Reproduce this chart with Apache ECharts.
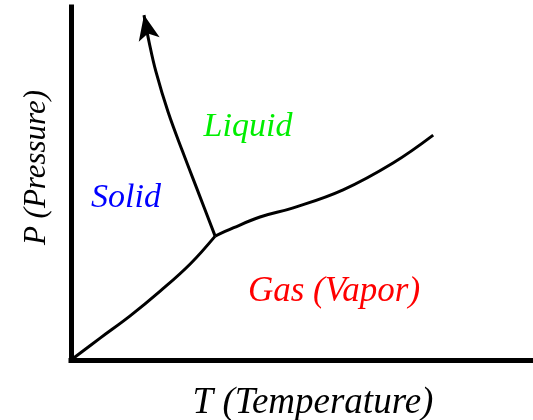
<!DOCTYPE html>
<html>
<head>
<meta charset="utf-8">
<script src="https://cdn.jsdelivr.net/npm/echarts@6/dist/echarts.min.js"></script>
<style>
  html,body{margin:0;padding:0;background:#fff}
  #chart{width:533px;height:420px}
</style>
</head>
<body>
<div id="chart"></div>
<script>
// phase boundaries, T and P in arbitrary units (0..100)
var subT = [0, 6.3, 12.8, 19.3, 25.8, 31.2]
var subP = [0, 6.2, 12.5, 19.5, 27.2, 35.1]
var fusT = [31.2, 27.7, 24.2, 21.0, 18.4, 16.9, 15.8]
var fusP = [35.1, 47.0, 58.9, 70.3, 81.6, 90.1, 97.7]
var vapT = [31.2, 35.1, 40.9, 48.1, 58.9, 69.7, 78.4]
var vapP = [35.1, 37.4, 40.5, 43.1, 48.2, 55.8, 63.7]

var phaseNames = ['Solid', 'Liquid', 'Gas (Vapor)']
var phaseColors = ['#0000ff', '#00ee00', '#ff0000']

function pairs(xs, ys){
    var out = []
    for (var i = 0; i < xs.length; i++) out.push([xs[i], ys[i]])
    return out
}

var serif = '"Liberation Serif", "DejaVu Serif", serif'

var myChart = echarts.init(document.getElementById('chart'))
var lineBase = {
    type: 'line',
    smooth: 0.4,
    symbol: 'none',
    lineStyle: {color: '#000', width: 3},
    silent: true
}
var option = {
    animation: false,
    grid: {left: 71, right: 0, top: 7, bottom: 60, outerBoundsMode: 'none', containLabel: false},
    xAxis: {
        type: 'value', min: 0, max: 100,
        name: 'T (Temperature)', nameLocation: 'middle', nameGap: 25,
        nameTextStyle: {fontFamily: serif, fontStyle: 'italic', fontSize: 37, color: '#000', padding: [0, 0, 0, 22]},
        axisLine: {lineStyle: {color: '#000', width: 5, cap: 'square'}},
        axisTick: {show: false}, axisLabel: {show: false}, splitLine: {show: false}
    },
    yAxis: {
        type: 'value', min: 0, max: 100,
        name: 'P (Pressure)', nameLocation: 'middle', nameGap: 19,
        nameTextStyle: {fontFamily: serif, fontStyle: 'italic', fontSize: 31, color: '#000', padding: [0, 0, 0, 32]},
        axisLine: {show: true, lineStyle: {color: '#000', width: 5, cap: 'square'}},
        axisTick: {show: false}, axisLabel: {show: false}, splitLine: {show: false}
    },
    series: [
        Object.assign({data: pairs(subT, subP)}, lineBase),
        Object.assign({data: pairs(fusT, fusP)}, lineBase),
        Object.assign({data: pairs(vapT, vapP)}, lineBase),
        {
            // arrow head at the end of the melting curve
            type: 'scatter',
            silent: true,
            z: 5,
            data: [[fusT[fusT.length - 1], fusP[fusP.length - 1]]],
            symbol: 'arrow',
            symbolSize: [16, 25],
            symbolRotate: 12,
            itemStyle: {color: '#000', opacity: 1}
        }
    ],
    graphic: [
        {type: 'text', x: 126, y: 198, style: {text: phaseNames[0], fill: phaseColors[0], font: 'italic 34px ' + serif, align: 'center', verticalAlign: 'middle'}},
        {type: 'text', x: 248, y: 127, style: {text: phaseNames[1], fill: phaseColors[1], font: 'italic 34px ' + serif, align: 'center', verticalAlign: 'middle'}},
        {type: 'text', x: 334, y: 292, style: {text: phaseNames[2], fill: phaseColors[2], font: 'italic 35px ' + serif, align: 'center', verticalAlign: 'middle'}}
    ]
}
myChart.setOption(option)
</script>
</body>
</html>
